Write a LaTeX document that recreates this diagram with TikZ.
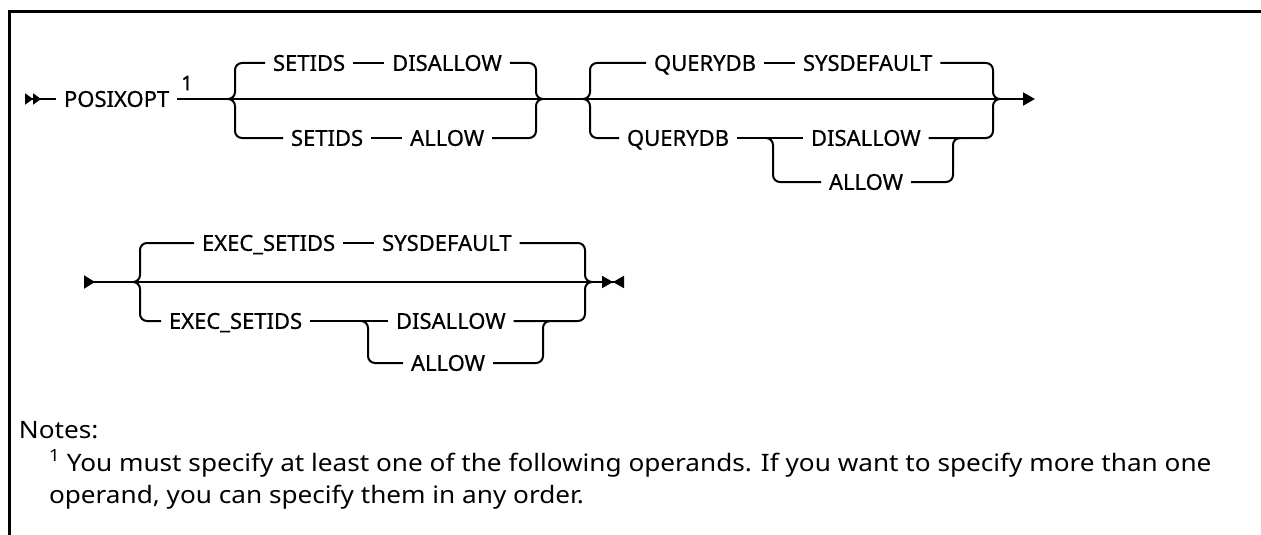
\documentclass[tikz,border=0pt]{standalone}
\usepackage{fontspec}
\setmainfont{Noto Sans}
\newfontfamily\kwfont[FakeBold=0.6]{Noto Sans}
\newfontfamily\riffont[FakeBold=1.2]{Noto Sans}
\newfontfamily\notefont[FakeStretch=1.09]{Noto Sans}
\usetikzlibrary{arrows.meta,positioning}
\begin{document}
\begin{tikzpicture}[x=1pt,y=-1pt,line width=2pt,
  kw/.style={font=\kwfont\fontsize{22}{26}\selectfont,inner xsep=7pt,inner ysep=0pt,text height=15.7pt,text depth=0pt,anchor=west},
  nota/.style={font=\notefont\fontsize{24}{28}\selectfont,inner sep=0pt,anchor=base west},
  ramo/.style={rounded corners=7pt},
  node distance=31pt]
  \useasboundingbox (0,0) rectangle (1261,535);
  % cornice
  \draw[line width=3pt] (9,535) -- (9,12) -- (1261,12);

  % prima riga: punti di giunzione
  \coordinate (st1) at (25,99);
  \coordinate (jAl) at (228,99);
  \coordinate (jAr) at (543,99);
  \coordinate (jBl) at (583,99);
  \coordinate (jBr) at (1000,99);
  \coordinate (fin1) at (1035,99);
  \coordinate (jCl) at (766,138);
  \coordinate (jCr) at (960,138);

  \node[kw] (posix) at (56,99) {POSIXOPT};
  \node[font=\riffont\fontsize{20}{24}\selectfont,inner sep=0pt] (rif1) at (187,83) {1};
  \node[kw] (setAt) at (265,63) {SETIDS};
  \node[kw,right=of setAt] (disAt) {DISALLOW};
  \node[kw] (setAb) at (283,138) {SETIDS};
  \node[kw,right=of setAb] (allAb) {ALLOW};
  \node[kw] (qBt) at (646,63) {QUERYDB};
  \node[kw,right=of qBt] (sysBt) {SYSDEFAULT};
  \node[kw] (qBb) at (619,138) {QUERYDB};
  \node[kw] (disC) at (803,138) {DISALLOW};
  \node[kw] (allC) at (821,182) {ALLOW};

  % linea principale
  \draw[{Triangle[reversed,length=8pt,width=11pt]Triangle[reversed,length=8pt,width=11pt]}-] (st1) -- (posix.west);
  \draw (posix.east) -- (jAl) -- (jAr) -- (jBl) -- (jBr);
  \draw[-{Triangle[length=12pt,width=13pt]}] (jBr) -- (fin1);

  % SETIDS
  \draw[ramo] (jAl) -- ++(7,0) |- (setAt.west);
  \draw (setAt) -- (disAt);
  \draw[ramo] (jAr) -- ++(-7,0) |- (disAt.east);
  \draw[ramo] (jAl) -- ++(7,0) |- (setAb.west);
  \draw (setAb) -- (allAb);
  \draw[ramo] (jAr) -- ++(-7,0) |- (allAb.east);

  % QUERYDB
  \draw[ramo] (jBl) -- ++(7,0) |- (qBt.west);
  \draw (qBt) -- (sysBt);
  \draw[ramo] (jBr) -- ++(-7,0) |- (sysBt.east);
  \draw[ramo] (jBl) -- ++(7,0) |- (qBb.west);
  \draw (qBb) -- (disC);
  \draw[ramo] (jBr) -- ++(-7,0) |- (disC.east);
  \draw[ramo] (jCl) -- ++(7,0) |- (allC.west);
  \draw[ramo] (jCr) -- ++(-7,0) |- (allC.east);

  % seconda riga
  \coordinate (st2) at (84,282);
  \coordinate (jDl) at (133,282);
  \coordinate (jDr) at (592,282);
  \coordinate (fin2) at (624,282);
  \coordinate (jEl) at (361,321);
  \coordinate (jEr) at (550,321);

  \node[kw] (eDt) at (194,243) {EXEC\_SETIDS};
  \node[kw,right=of eDt] (sysDt) {SYSDEFAULT};
  \node[kw] (eDb) at (161,321) {EXEC\_SETIDS};
  \node[kw] (disE) at (388,321) {DISALLOW};
  \node[kw] (allE) at (403,363) {ALLOW};

  \draw[{Triangle[reversed,length=11pt,width=13pt]}-] (st2) -- (jDl) -- (jDr);
  \draw[-{Triangle[length=11pt,width=12pt]Triangle[reversed,length=11pt,width=12pt]}] (jDr) -- (fin2);

  % EXEC_SETIDS
  \draw[ramo] (jDl) -- ++(7,0) |- (eDt.west);
  \draw (eDt) -- (sysDt);
  \draw[ramo] (jDr) -- ++(-7,0) |- (sysDt.east);
  \draw[ramo] (jDl) -- ++(7,0) |- (eDb.west);
  \draw (eDb) -- (disE);
  \draw[ramo] (jDr) -- ++(-7,0) |- (disE.east);
  \draw[ramo] (jEl) -- ++(7,0) |- (allE.west);
  \draw[ramo] (jEr) -- ++(-7,0) |- (allE.east);

  % note
  \node[nota] (notes) at (18,438) {Notes:};
  \node[nota] (riga1) at (48,471) {\textsuperscript{1} You must specify at least one of the following operands. If you want to specify more than one};
  \node[nota] (riga2) at (48,503) {operand, you can specify them in any order.};
\end{tikzpicture}
\end{document}
